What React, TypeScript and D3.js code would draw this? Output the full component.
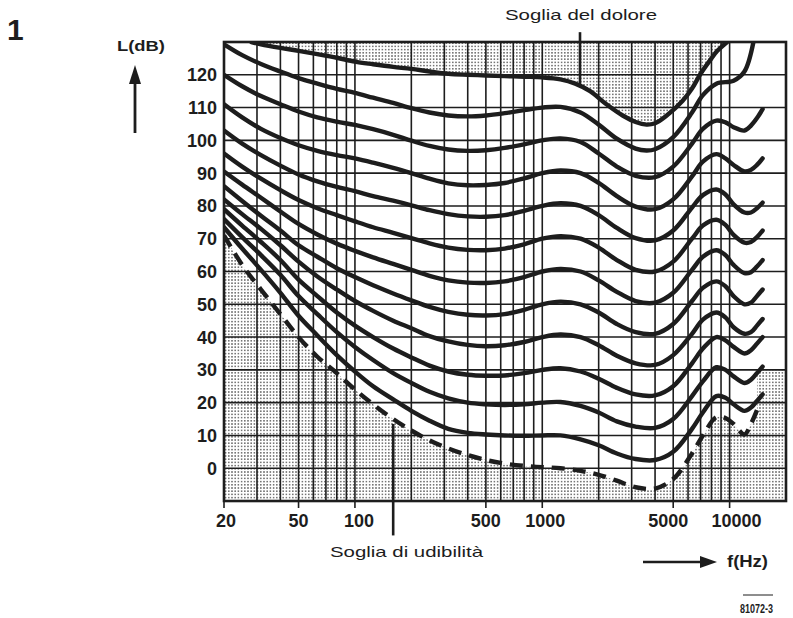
import React from 'react';
import * as d3 from 'd3';

// ---------- data ----------
const FREQ_LOW = [20, 25, 31.5, 40, 50, 63, 80, 100, 125, 160, 200, 250, 315, 400, 500, 630, 800, 1000];
const FREQ_HIGH = [1250, 1600, 2000, 2500, 3150, 4000, 5000, 6300, 7200, 8500, 9500, 10500, 12000, 13000, 14000, 15000];

// threshold of hearing (dashed)
const PHON_0 = [71, 62, 54.5, 47, 40, 34, 29, 24, 19.5, 15, 11.5, 8.5, 6, 4, 2.5, 1.4, 0.7, 0.3,
  0, -0.8, -2, -3.8, -5.8, -6.2, -3.3, 4.5, 10, 15.6, 15.3, 13.5, 10.3, 13.5, 17.7];
const PHON_10 = [73.5, 67, 60.5, 53.5, 46.5, 40.5, 34.5, 29.5, 25, 21, 17.5, 14.5, 12, 10.8, 10.3, 10, 9.9, 10,
  10, 8.8, 7, 4.5, 2.8, 2.5, 5, 12, 17, 22, 21.5, 19.5, 17.5, 18.5, 20.5, 22.5];
const PHON_20 = [76, 70.5, 65, 59, 52.5, 47, 41.5, 37, 33, 29, 26, 23.3, 21.3, 20, 19.5, 19.3, 19.5, 20,
  20.2, 19, 17, 14.3, 12.7, 12.3, 15, 22, 26.5, 30.8, 30, 28, 26, 27, 29, 31];
const PHON_30 = [79, 74, 69, 63.5, 57.5, 52.5, 47.5, 43.5, 40, 36.5, 33.8, 31.3, 29.5, 28.5, 28.2, 28.3, 29, 30,
  30.5, 29.5, 27.3, 24.5, 22.5, 22.2, 25, 32, 36.5, 40, 39, 37, 35, 36, 38, 40];
const PHON_40 = [82, 77.5, 73, 68, 63, 58.5, 54.5, 51, 48, 45, 42.7, 40.3, 38.7, 37.6, 37.2, 37.5, 38.5, 40,
  40.8, 40, 37.5, 34.3, 32, 31.5, 34.5, 41, 45.3, 47.5, 46, 43, 41, 41.5, 43.5, 45.5];
const PHON_50 = [86, 81.5, 77, 72.5, 68, 64.5, 61, 58.3, 55.8, 53.3, 51.2, 49.2, 47.7, 46.8, 46.6, 47, 48.3, 50,
  50.8, 50, 47.5, 44, 41.5, 41, 44, 51, 55, 57, 55.5, 52.5, 50, 50.5, 52.5, 54.5];
const PHON_60 = [90.5, 86.5, 82.5, 78.3, 74.5, 71.3, 68.5, 66.3, 64.3, 62.3, 60.5, 58.7, 57.3, 56.6, 56.5, 57, 58.3, 60,
  60.8, 60, 57.3, 53.8, 51, 50.5, 53.5, 60.5, 64.5, 66.5, 65, 62, 59.5, 59.8, 61.5, 63.5];
const PHON_70 = [96, 92, 88.3, 84.8, 81.8, 79.3, 77.2, 75.3, 73.5, 71.8, 70.2, 68.6, 67.3, 66.6, 66.5, 67, 68.3, 70,
  70.8, 70, 67.3, 63.5, 60.5, 60, 63, 70, 74, 75.8, 74.2, 71.2, 68.8, 69, 70.5, 72.5];
const PHON_80 = [103, 99, 95.5, 92.3, 89.6, 87.5, 85.8, 84.5, 83, 81.6, 80.2, 78.7, 77.5, 76.8, 76.7, 77.2, 78.5, 80,
  80.8, 80, 77.2, 73.3, 70.2, 69.5, 72.5, 79.5, 83.3, 85, 83.5, 80.5, 78, 78, 79.3, 81];
const PHON_90 = [111, 107, 103.5, 100.7, 98.5, 96.8, 95.5, 94.5, 93.2, 91.6, 90, 88.3, 86.9, 86.3, 86.4, 87, 88.4, 90,
  90.8, 90, 87, 83, 79.8, 79, 82, 89, 93.5, 95.8, 94.5, 92.5, 90.5, 91, 92.5, 94.5];
const PHON_100 = [120, 116.5, 113.5, 111, 108.8, 107, 105.7, 104.7, 103.4, 101.7, 99.9, 98.3, 97.2, 96.8, 97, 97.7, 98.8, 100,
  100.6, 99.5, 96, 92, 89.2, 88.8, 92, 99, 103.5, 106, 105.5, 104, 103, 104.5, 106.8, 109.5];

const FREQ_110 = [20, 25, 31.5, 40, 50, 63, 80, 100, 125, 160, 200, 250, 315, 400, 500, 630, 800, 1000,
  1250, 1600, 2000, 2500, 3150, 3600, 4000, 5000, 6300, 7200, 8500, 10500, 12000, 13400];
const PHON_110 = [129.3, 126, 123.3, 121, 119, 117.3, 115.7, 114.5, 113, 111.4, 109.8, 108.5, 107.6, 107.3, 107.6, 108.3, 109.2, 110,
  110.2, 108.5, 104.8, 100.5, 97.5, 96.9, 97.3, 101, 108.5, 113.8, 117.3, 118.2, 121, 130];

// threshold of pain
const FREQ_120 = [28, 31.5, 40, 50, 63, 80, 100, 125, 160, 200, 250, 315, 400, 500, 630, 800, 1000,
  1250, 1500, 1800, 2200, 2700, 3150, 3600, 4000, 4600, 5600, 6300, 7000, 8000, 8600, 9700];
const PHON_120 = [130, 129.3, 128.2, 127.3, 126.3, 125.2, 124, 123.2, 122.4, 121.8, 121, 120.3, 120, 119.8, 119.6, 119.4, 119.2,
  118.6, 117.3, 115, 111, 107.5, 105.6, 104.8, 105.2, 107.5, 112, 115.8, 120.3, 125, 127.3, 130];

const Y_TICKS = [0, 10, 20, 30, 40, 50, 60, 70, 80, 90, 100, 110, 120];
const Y_GRID = [-10, 0, 10, 20, 30, 40, 50, 60, 70, 80, 90, 100, 110, 120, 130];
const X_TICKS = [20, 50, 100, 500, 1000, 5000, 10000];
const X_GRID = [20, 30, 40, 50, 60, 70, 80, 90, 100, 200, 300, 400, 500, 600, 700, 800, 900, 1000,
  2000, 3000, 4000, 5000, 6000, 7000, 8000, 9000, 10000, 20000];

const RIGHT_SHADE = { fromFreq: 14000, toFreq: 20000, topDb: 30 };
const PAIN_POINTER = { freq: 1590, fromDb: 133, toDb: 117 };
const HEAR_POINTER = { freq: 160, fromDb: 13.5, toDb: -20.5 };

// ---------- component ----------
const FONT = "'Liberation Sans', Arial, Helvetica, sans-serif";
const INK = '#1d1d1d';
const LABEL_NUDGE: Record<number, number> = { 20: 2, 100: 4, 1000: 3, 5000: -5, 10000: 7 };

type P = [number, number];
const zip = (f: number[], v: number[]): P[] => v.map((d, i) => [f[i], d] as P).filter((d) => d[0] !== undefined);

export default function App() {
  const x = d3.scaleLog().domain([20, 20000]).range([224, 786]);
  const y = d3.scaleLinear().domain([-10, 130]).range([501, 42]);
  const FREQ_ALL = [...FREQ_LOW, ...FREQ_HIGH];

  const solid: P[][] = [PHON_10, PHON_20, PHON_30, PHON_40, PHON_50, PHON_60, PHON_70, PHON_80, PHON_90, PHON_100]
    .map((s) => zip(FREQ_ALL, s));
  solid.push(zip(FREQ_110, PHON_110));
  const pain = zip(FREQ_120, PHON_120);
  solid.push(pain);
  const threshold = zip(FREQ_ALL, PHON_0);

  const curve = d3.curveCatmullRom.alpha(0.5);
  const line = d3.line<P>().x((d) => x(d[0])).y((d) => y(d[1])).curve(curve);
  const areaTop = d3.area<P>().x((d) => x(d[0])).y0(y(130)).y1((d) => y(d[1])).curve(curve);
  const areaBottom = d3.area<P>().x((d) => x(d[0])).y0(y(-10)).y1((d) => y(d[1])).curve(curve);

  const [x0, x1] = x.range();
  const [yb, yt] = y.range();

  return (
    <div style={{ position: 'absolute', left: 0, top: 0, background: '#fff' }}>
      <svg width={793} height={618} viewBox="0 0 793 618" style={{ display: 'block', background: '#fff' }}>
        <defs>
          <pattern id="dots" width={3.2} height={3.2} patternUnits="userSpaceOnUse">
            <rect width={3.2} height={3.2} fill="#fff" />
            <circle cx={1.6} cy={1.6} r={0.8} fill="#4a4a4a" />
          </pattern>
          <clipPath id="plot">
            <rect x={x0} y={yt} width={x1 - x0} height={yb - yt} />
          </clipPath>
        </defs>

        {/* shaded regions */}
        <g clipPath="url(#plot)">
          <path d={areaTop(pain) || ''} fill="url(#dots)" />
          <path d={areaBottom(threshold) || ''} fill="url(#dots)" />
          <rect x={x(RIGHT_SHADE.fromFreq)} y={y(RIGHT_SHADE.topDb)}
            width={x(RIGHT_SHADE.toFreq) - x(RIGHT_SHADE.fromFreq)} height={y(-10) - y(RIGHT_SHADE.topDb)} fill="url(#dots)" />
        </g>

        {/* grid */}
        <g stroke={INK} strokeWidth={1.6}>
          {X_GRID.map((f) => (
            <line key={'vx' + f} x1={x(f)} x2={x(f)} y1={yt} y2={yb} />
          ))}
          {Y_GRID.map((v) => (
            <line key={'hy' + v} x1={x0} x2={x1} y1={y(v)} y2={y(v)} />
          ))}
          {X_TICKS.map((f) => (
            <line key={'tk' + f} x1={x(f)} x2={x(f)} y1={yb} y2={yb + 7} />
          ))}
        </g>
        <rect x={x0} y={yt} width={x1 - x0} height={yb - yt} fill="none" stroke={INK} strokeWidth={2.6} />

        {/* curves */}
        <g clipPath="url(#plot)" fill="none" stroke={INK} strokeLinecap="round" strokeLinejoin="round">
          {solid.map((s, i) => (
            <path key={'c' + i} d={line(s) || ''} strokeWidth={4.4} />
          ))}
          <path d={line(threshold) || ''} strokeWidth={4.4} strokeDasharray="13 8" strokeLinecap="butt" />
        </g>

        {/* pointers */}
        <g stroke={INK} strokeWidth={2.6}>
          <line x1={x(PAIN_POINTER.freq)} x2={x(PAIN_POINTER.freq)} y1={y(PAIN_POINTER.fromDb)} y2={y(PAIN_POINTER.toDb)} />
          <line x1={x(HEAR_POINTER.freq)} x2={x(HEAR_POINTER.freq)} y1={y(HEAR_POINTER.fromDb)} y2={y(HEAR_POINTER.toDb)} />
        </g>

        {/* tick labels */}
        <g fontFamily={FONT} fontWeight="bold" fontSize={18} fill={INK}>
          {Y_TICKS.map((v) => (
            <text key={'yl' + v} x={217} y={y(v) + 6.5} textAnchor="end">{v}</text>
          ))}
          {X_TICKS.map((f) => (
            <text key={'xl' + f} x={x(f) + (LABEL_NUDGE[f] || 0)} y={527} textAnchor="middle">{f}</text>
          ))}
        </g>

        {/* labels */}
        <text x={7} y={40} fontFamily={FONT} fontWeight="bold" fontSize={30} fill={INK}>1</text>
        <text x={117} y={51} fontFamily={FONT} fontWeight="bold" fontSize={14} fill={INK}
          textLength={48} lengthAdjust="spacingAndGlyphs">L(dB)</text>
        <line x1={135} x2={135} y1={133} y2={80} stroke={INK} strokeWidth={2.8} />
        <path d="M135,65 L129,84 L141,84 Z" fill={INK} />

        <text x={505} y={20} fontFamily={FONT} fontSize={15} fill={INK}
          textLength={152} lengthAdjust="spacingAndGlyphs">Soglia del dolore</text>
        <text x={330} y={557} fontFamily={FONT} fontSize={15} fill={INK}
          textLength={153} lengthAdjust="spacingAndGlyphs">Soglia di udibilità</text>

        <line x1={643} x2={702} y1={562} y2={562} stroke={INK} strokeWidth={2.6} />
        <path d="M717,562 L700,556 L700,568 Z" fill={INK} />
        <text x={727} y={567} fontFamily={FONT} fontWeight="bold" fontSize={16} fill={INK}
          textLength={41} lengthAdjust="spacingAndGlyphs">f(Hz)</text>

        <line x1={743} x2={773} y1={595} y2={595} stroke={INK} strokeWidth={1} />
        <text x={740} y={613} fontFamily={FONT} fontWeight="bold" fontSize={12} fill={INK}
          textLength={33} lengthAdjust="spacingAndGlyphs">81072-3</text>
      </svg>
    </div>
  );
}
